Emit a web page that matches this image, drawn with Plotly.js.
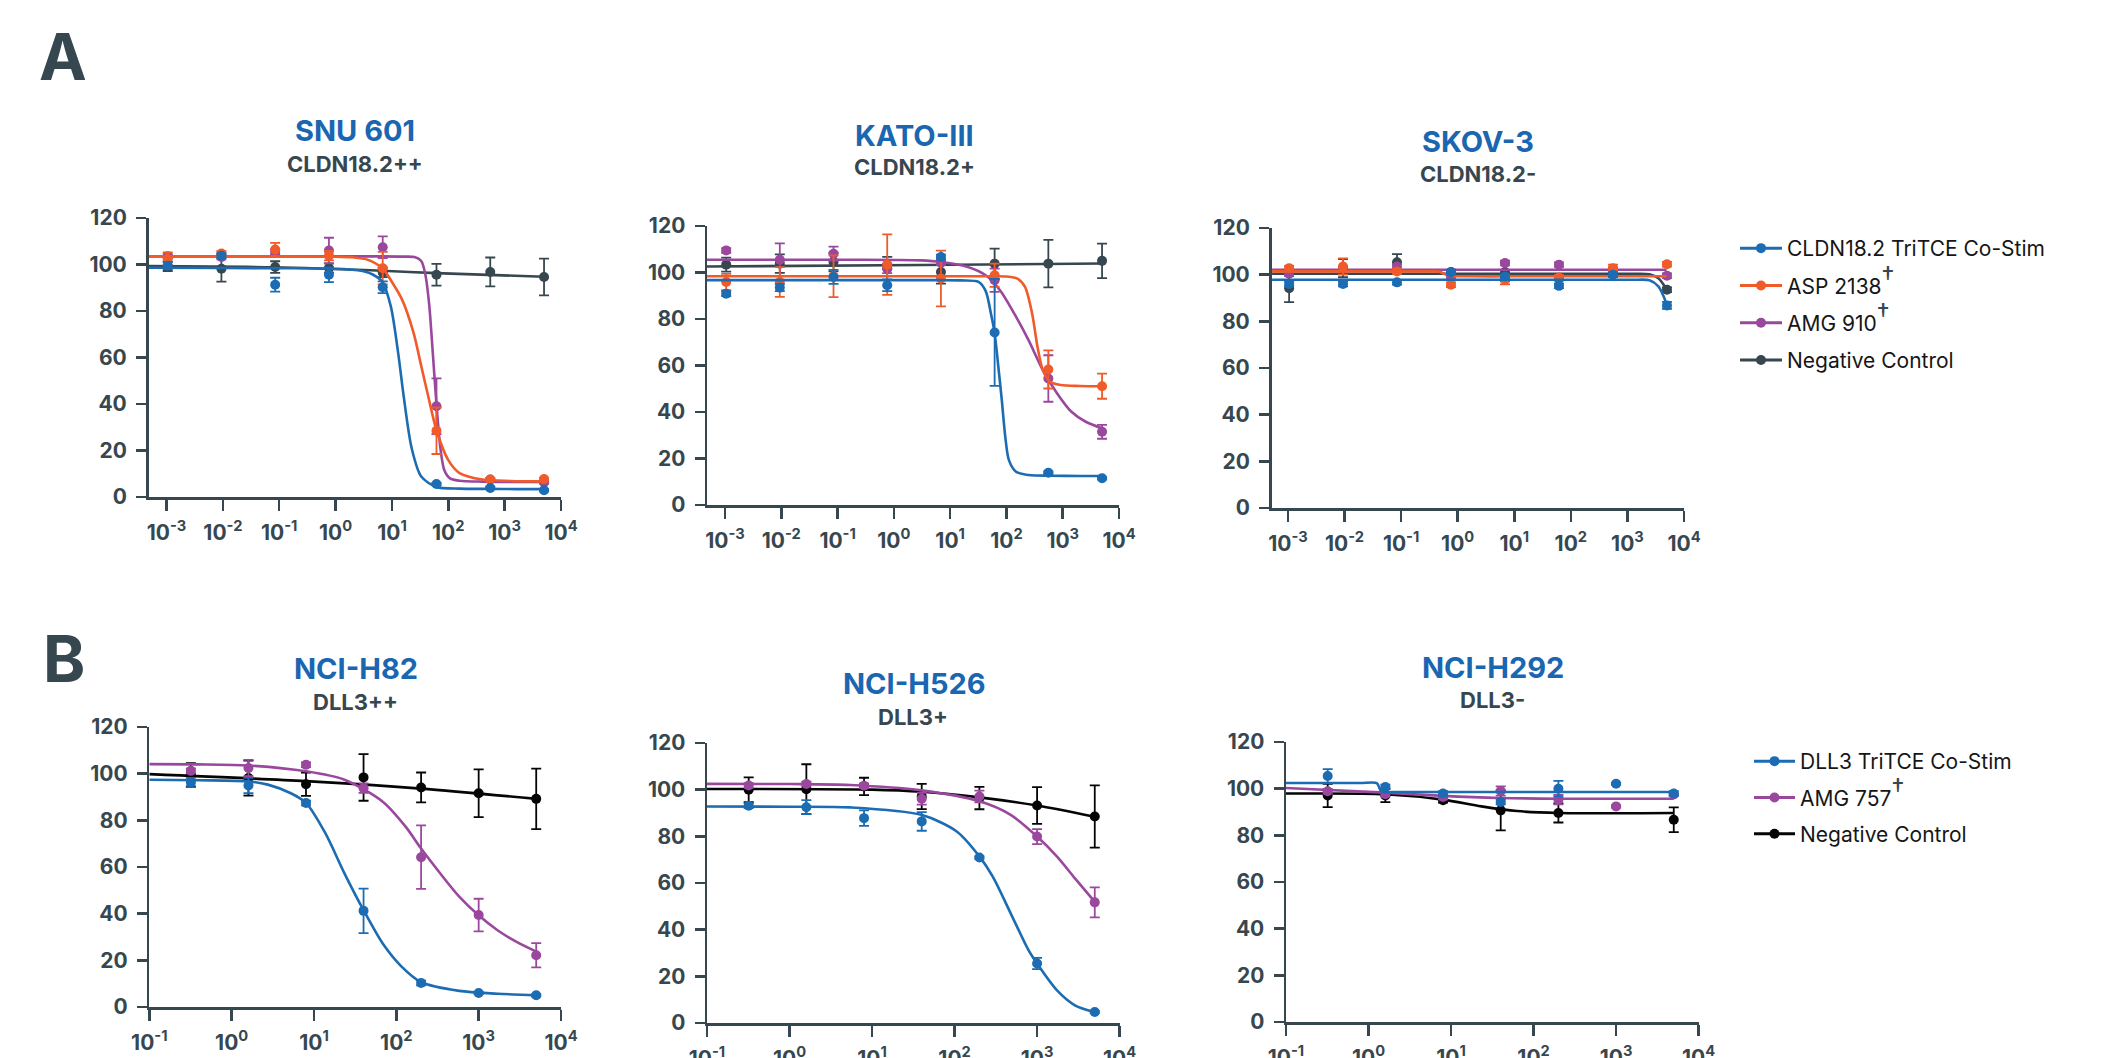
<!DOCTYPE html>
<html>
<head>
<meta charset="utf-8">
<script src="https://cdn.plot.ly/plotly-3.0.1.min.js"></script>
<style>html,body{margin:0;padding:0;background:#fff;}</style>
</head>
<body>
<div id="chart" style="width:2117px;height:1058px;"></div>
<script>
// ---------- concentrations (nM) ----------
const concA = [0.00105, 0.00941, 0.0847, 0.762, 6.86, 61.7, 555.6, 5000];
const concB = [0.32, 1.6, 8, 40, 200, 1000, 5000];

// ---------- tick labels ----------
const tickValsA = [1e-3, 1e-2, 1e-1, 1, 10, 100, 1000, 10000];
const tickTextA = ['10<sup>-3</sup>', '10<sup>-2</sup>', '10<sup>-1</sup>', '10<sup>0</sup>', '10<sup>1</sup>', '10<sup>2</sup>', '10<sup>3</sup>', '10<sup>4</sup>'];
const tickValsB = [1e-1, 1, 10, 100, 1000, 10000];
const tickTextB = ['10<sup>-1</sup>', '10<sup>0</sup>', '10<sup>1</sup>', '10<sup>2</sup>', '10<sup>3</sup>', '10<sup>4</sup>'];
const yTicks = [0, 20, 40, 60, 80, 100, 120];

// ---------- names ----------
const namesA = ['CLDN18.2 TriTCE Co-Stim', 'ASP 2138', 'AMG 910', 'Negative Control'];
const namesB = ['DLL3 TriTCE Co-Stim', 'AMG 757', 'Negative Control'];
const panelTitles = ['SNU 601', 'KATO-III', 'SKOV-3', 'NCI-H82', 'NCI-H526', 'NCI-H292'];
const panelSubtitles = ['CLDN18.2++', 'CLDN18.2+', 'CLDN18.2-', 'DLL3++', 'DLL3+', 'DLL3-'];

// ---------- SNU 601 ----------
const snu_tritce = [99.5, 103.8, 91.3, 95.6, 90.2, 5.6, 3.9, 2.9];
const snu_tritce_err = [1.5, 1, 3, 3.2, 2.5, 0.5, 0.5, 0.5];
const snu_asp = [102.5, 104.7, 106.4, 103.8, 98.4, 28.5, 7.5, 7.7];
const snu_asp_err = [2.7, 1, 2.9, 2, 7, 10, 0.5, 0.5];
const snu_amg = [103.5, 103.2, 105.5, 106, 107.4, 39, 7.5, 6.3];
const snu_amg_err = [1, 1, 1, 5.5, 4.7, 12, 0.5, 0.5];
const snu_neg = [99.2, 98.2, 98.9, 98.5, 96.6, 95.6, 96.8, 94.6];
const snu_neg_err = [2, 5.6, 2.5, 2, 2, 4.7, 6.2, 7.9];
// fitted curves (log10 nM, %)
const snu_tritce_fitX = [-3.32, -2, -1, 0, 0.4, 0.65, 0.83, 0.98, 1.11, 1.21, 1.35, 1.52, 1.79, 2.2, 2.7, 3.2, 3.70];
const snu_tritce_fitY = [98.6, 98.5, 98.4, 98.2, 97.5, 95.8, 92.5, 82, 62, 43, 21, 8.8, 4.3, 3.6, 3.5, 3.4, 3.4];
const snu_asp_fitX = [-3.32, -2, -1, 0, 0.3, 0.55, 0.83, 1.0, 1.18, 1.385, 1.521, 1.657, 1.793, 1.997, 2.2, 2.608, 3.1, 3.70];
const snu_asp_fitY = [103.5, 103.5, 103.5, 103.4, 103.1, 102.2, 98.4, 92.5, 84.9, 70.5, 56.2, 41.9, 28.5, 16, 10.3, 7.5, 6.9, 6.7];
const snu_amg_fitX = [-3.32, -2, -1, 0, 0.8, 1.2, 1.40, 1.52, 1.59, 1.66, 1.725, 1.793, 1.86, 1.93, 2.03, 2.2, 2.6, 3.1, 3.70];
const snu_amg_fitY = [103.5, 103.5, 103.5, 103.5, 103.5, 103.4, 103.2, 101.5, 96, 83, 62, 39, 21, 11.5, 8, 7, 6.6, 6.5, 6.5];
const snu_neg_fitX = [-3.32, -1.08, 0.83, 1.79, 3.70];
const snu_neg_fitY = [99.3, 98.8, 97.3, 96.3, 94.7];

// ---------- KATO-III ----------
const kato_tritce = [90.9, 93.5, 98.1, 94.5, 106.7, 74.2, 13.9, 11.5];
const kato_tritce_err = [1, 1.5, 3, 2.5, 1, 23, 0.5, 0.5];
const kato_asp = [95.9, 95.9, 98.4, 103.4, 97.4, 98.8, 58.3, 51.1];
const kato_asp_err = [3.5, 6.4, 9, 13, 12, 5, 8.2, 5.4];
const kato_amg = [109.5, 105.5, 108.1, 101.7, 104.2, 96.7, 54.4, 31.5];
const kato_amg_err = [1, 7, 3, 2, 1, 5, 10, 3];
const kato_neg = [103.4, 103.8, 104.5, 101.7, 100.2, 103.8, 103.8, 105];
const kato_neg_err = [3, 4, 4, 5, 5, 6.5, 10.2, 7.4];
const kato_tritce_fitX = [-3.32, -2, -1, 0, 0.8, 1.2, 1.505, 1.632, 1.727, 1.79, 1.854, 1.918, 1.981, 2.044, 2.171, 2.393, 2.8, 3.3, 3.707];
const kato_tritce_fitY = [96.7, 96.7, 96.7, 96.7, 96.7, 96.6, 96.0, 92, 82, 74, 60, 45, 29, 19.3, 14.3, 12.9, 12.6, 12.5, 12.5];
const kato_asp_fitX = [-3.32, -2, -1, 0, 1, 1.7, 2.0, 2.203, 2.33, 2.457, 2.552, 2.647, 2.774, 2.964, 3.3, 3.707];
const kato_asp_fitY = [98.4, 98.4, 98.4, 98.4, 98.4, 98.4, 98.3, 97.3, 93.8, 82.3, 68, 58, 53, 51.6, 51.2, 51.1];
const kato_amg_fitX = [-3.32, -2, -1, 0, 0.49, 0.839, 1.315, 1.632, 1.886, 2.14, 2.393, 2.647, 2.901, 3.155, 3.409, 3.707];
const kato_amg_fitY = [105.5, 105.5, 105.5, 105.4, 105.2, 104.5, 102.4, 98.8, 92.4, 82.3, 70.9, 58, 48, 40.1, 35.8, 32.9];
const kato_neg_fitX = [-3.32, 0.5, 3.707];
const kato_neg_fitY = [102.6, 103.2, 103.9];

// ---------- SKOV-3 ----------
const skov_tritce = [96, 96, 96.7, 101, 99.2, 95.2, 100, 86.8];
const skov_tritce_err = [1, 1, 1, 1, 1, 1, 1, 1.5];
const skov_asp = [102.8, 103.5, 101.4, 95.7, 97.8, 98.8, 102.8, 104.5];
const skov_asp_err = [1, 3.5, 1, 1, 2, 1, 1.5, 1];
const skov_amg = [100.4, 102.5, 103.5, 99.2, 105, 104.3, 102.1, 99.5];
const skov_amg_err = [1, 1, 1, 1, 1, 1, 1, 1];
const skov_neg = [94.2, 102.8, 105.3, 101.1, 101.1, 98.5, 100.7, 93.5];
const skov_neg_err = [6, 3.9, 3.5, 1, 4, 1, 1, 1];
const skov_tritce_fitX = [-3.28, -1, 1, 2.5, 3.1, 3.39, 3.547, 3.641, 3.692];
const skov_tritce_fitY = [97.8, 97.8, 97.8, 97.8, 97.8, 97.6, 95, 90.6, 87];
const skov_asp_fitX = [-3.28, -2, -1, -0.45, -0.33, -0.21, -0.09, 0.1, 1, 2, 3.692];
const skov_asp_fitY = [101.4, 101.4, 101.4, 101.4, 101.3, 100.1, 99.4, 99.3, 99.3, 99.3, 99.3];
const skov_amg_fitX = [-3.28, 3.692];
const skov_amg_fitY = [102.1, 102.1];
const skov_neg_fitX = [-3.28, -1, 1, 2.5, 3.1, 3.39, 3.547, 3.692];
const skov_neg_fitY = [100.4, 100.4, 100.4, 100.4, 100.4, 100.2, 98.5, 93.8];

// ---------- NCI-H82 ----------
const h82_tritce = [96.2, 94.9, 87.4, 41.2, 10.3, 6, 5];
const h82_tritce_err = [2, 3.3, 1, 9.5, 1, 0.5, 0.5];
const h82_amg = [101.2, 102.4, 103.8, 93.8, 64.2, 39.4, 22.2];
const h82_amg_err = [1, 3.5, 1, 2, 13.6, 7, 5.2];
const h82_neg = [99.5, 98.1, 95.5, 98.4, 94.1, 91.6, 89.2];
const h82_neg_err = [5, 7.5, 5, 10, 6.4, 10.2, 13];
const h82_tritce_fitX = [-1, -0.4, 0.208, 0.44, 0.719, 0.905, 1.138, 1.37, 1.602, 1.835, 2.067, 2.299, 2.764, 3.229, 3.707];
const h82_tritce_fitY = [97.4, 97.2, 96.7, 95.3, 91.6, 87.4, 74.5, 57.3, 41.5, 27.2, 17.2, 10.7, 6.9, 5.7, 5.0];
const h82_amg_fitX = [-1, -0.4, 0.208, 0.905, 1.37, 1.835, 2.113, 2.299, 2.532, 2.764, 2.996, 3.229, 3.461, 3.707];
const h82_amg_fitY = [104.1, 104.0, 103.5, 101, 97.4, 88, 77.3, 68, 57.3, 47.3, 39.4, 32.9, 27.9, 23.6];
const h82_neg_fitX = [-1, 0.9, 2.3, 3.707];
const h82_neg_fitY = [99.8, 96.8, 93.6, 89.2];

// ---------- NCI-H526 ----------
const h526_tritce = [93.1, 92.5, 87.8, 86.4, 70.9, 25.5, 4.7];
const h526_tritce_err = [1, 3, 3.3, 4, 0.5, 2.4, 0.5];
const h526_amg = [101.8, 102.4, 101.7, 96.1, 97.1, 79.9, 51.7];
const h526_amg_err = [1, 1, 1, 2.5, 2.5, 3.2, 6.4];
const h526_neg = [100, 100.2, 101.4, 97.1, 96.4, 93.2, 88.5];
const h526_neg_err = [5.3, 10.7, 3.7, 5.4, 4.8, 7.9, 13.3];
const h526_tritce_fitX = [-1, 0, 0.732, 1.597, 2.03, 2.303, 2.463, 2.68, 2.896, 3.0, 3.242, 3.459, 3.697];
const h526_tritce_fitY = [92.8, 92.7, 92.4, 89.2, 82, 71.3, 62.7, 47, 31.2, 25.5, 14, 7.6, 4.7];
const h526_amg_fitX = [-1, 0, 0.732, 1.597, 2.303, 2.68, 3.0, 3.242, 3.459, 3.697];
const h526_amg_fitY = [102.5, 102.4, 102, 99.7, 95, 89.2, 79.9, 71.3, 62, 52];
const h526_neg_fitX = [-1, 1.0, 1.6, 2.3, 3.0, 3.697];
const h526_neg_fitY = [100.3, 100, 99.1, 96.7, 93.2, 88.4];

// ---------- NCI-H292 ----------
const h292_tritce = [105.4, 100.7, 97.9, 94.3, 100, 102.1, 97.9];
const h292_tritce_err = [3, 1, 1, 1, 3.3, 0.5, 1];
const h292_amg = [98.9, 97.6, 96.4, 99, 95.3, 92.4, 97.5];
const h292_amg_err = [1, 1, 1, 2, 2, 0.5, 0.5];
const h292_neg = [97.1, 97.1, 95, 90.7, 89.6, null, 86.7];
const h292_neg_err = [5, 2.9, 1, 8.6, 4.1, 0, 5.3];
const h292_tritce_fitX = [-1, -0.5, -0.1, 0.1, 0.13, 0.16, 0.3, 1, 2, 3.697];
const h292_tritce_fitY = [102.4, 102.4, 102.4, 102.4, 100.5, 98.6, 98.6, 98.6, 98.6, 98.6];
const h292_amg_fitX = [-1, 0.2, 0.9, 1.6, 2.3, 3.697];
const h292_amg_fitY = [100.3, 98.3, 96.9, 96, 95.7, 95.7];
const h292_neg_fitX = [-1, 0.2, 0.9, 1.368, 1.8, 2.307, 3.697];
const h292_neg_fitY = [97.9, 97.6, 95.3, 92.4, 90.4, 89.6, 89.6];

// ---------- styling ----------
const C_BLUE = '#1b6cb3', C_ORANGE = '#f15a29', C_PURPLE = '#9a479e', C_GRAY = '#37474f', C_BLACK = '#050505';
const AX = '#37474f';
const W = 2117, H = 1058;
const FONT = 'Inter, "Open Sans", sans-serif';

// panel layout in pixels: [left, right, top(120), bottom(0)], x log range
const panels = [
  {px:[148.5, 561, 218, 497], xr:[-3.32, 4], tv:tickValsA, tt:tickTextA, conc:concA, title:[355,131], sub:[355,164],
   series:[
     {c:C_GRAY, y:snu_neg, e:snu_neg_err, fx:snu_neg_fitX, fy:snu_neg_fitY},
     {c:C_PURPLE, y:snu_amg, e:snu_amg_err, fx:snu_amg_fitX, fy:snu_amg_fitY},
     {c:C_ORANGE, y:snu_asp, e:snu_asp_err, fx:snu_asp_fitX, fy:snu_asp_fitY},
     {c:C_BLUE, y:snu_tritce, e:snu_tritce_err, fx:snu_tritce_fitX, fy:snu_tritce_fitY}]},
  {px:[707, 1119, 226, 505], xr:[-3.32, 4], tv:tickValsA, tt:tickTextA, conc:concA, title:[914,135], sub:[914,167],
   series:[
     {c:C_GRAY, y:kato_neg, e:kato_neg_err, fx:kato_neg_fitX, fy:kato_neg_fitY},
     {c:C_PURPLE, y:kato_amg, e:kato_amg_err, fx:kato_amg_fitX, fy:kato_amg_fitY},
     {c:C_ORANGE, y:kato_asp, e:kato_asp_err, fx:kato_asp_fitX, fy:kato_asp_fitY},
     {c:C_BLUE, y:kato_tritce, e:kato_tritce_err, fx:kato_tritce_fitX, fy:kato_tritce_fitY}]},
  {px:[1271.5, 1684, 228, 508], xr:[-3.29, 4], tv:tickValsA, tt:tickTextA, conc:concA, title:[1478,142], sub:[1478,174],
   series:[
     {c:C_GRAY, y:skov_neg, e:skov_neg_err, fx:skov_neg_fitX, fy:skov_neg_fitY},
     {c:C_PURPLE, y:skov_amg, e:skov_amg_err, fx:skov_amg_fitX, fy:skov_amg_fitY},
     {c:C_ORANGE, y:skov_asp, e:skov_asp_err, fx:skov_asp_fitX, fy:skov_asp_fitY},
     {c:C_BLUE, y:skov_tritce, e:skov_tritce_err, fx:skov_tritce_fitX, fy:skov_tritce_fitY}]},
  {px:[149.3, 561, 727, 1007], xr:[-1, 4], tv:tickValsB, tt:tickTextB, conc:concB, title:[355.5,668], sub:[355,702],
   series:[
     {c:C_BLACK, y:h82_neg, e:h82_neg_err, fx:h82_neg_fitX, fy:h82_neg_fitY},
     {c:C_PURPLE, y:h82_amg, e:h82_amg_err, fx:h82_amg_fitX, fy:h82_amg_fitY},
     {c:C_BLUE, y:h82_tritce, e:h82_tritce_err, fx:h82_tritce_fitX, fy:h82_tritce_fitY}]},
  {px:[707, 1119.6, 743, 1023], xr:[-1, 4], tv:tickValsB, tt:tickTextB, conc:concB, title:[914,683], sub:[913,717],
   series:[
     {c:C_BLACK, y:h526_neg, e:h526_neg_err, fx:h526_neg_fitX, fy:h526_neg_fitY},
     {c:C_PURPLE, y:h526_amg, e:h526_amg_err, fx:h526_amg_fitX, fy:h526_amg_fitY},
     {c:C_BLUE, y:h526_tritce, e:h526_tritce_err, fx:h526_tritce_fitX, fy:h526_tritce_fitY}]},
  {px:[1286, 1698.6, 742, 1022], xr:[-1, 4], tv:tickValsB, tt:tickTextB, conc:concB, title:[1492.7,667], sub:[1492.5,700],
   series:[
     {c:C_BLACK, y:h292_neg, e:h292_neg_err, fx:h292_neg_fitX, fy:h292_neg_fitY},
     {c:C_PURPLE, y:h292_amg, e:h292_amg_err, fx:h292_amg_fitX, fy:h292_amg_fitY},
     {c:C_BLUE, y:h292_tritce, e:h292_tritce_err, fx:h292_tritce_fitX, fy:h292_tritce_fitY}]}
];

const traces = [];
const layout = {
  width: W, height: H,
  margin: {l:0, r:0, t:0, b:0, pad:0},
  paper_bgcolor: '#ffffff', plot_bgcolor: 'rgba(0,0,0,0)',
  showlegend: true,
  annotations: [],
  font: {family: FONT, color: AX}
};

const tickFont = {family: FONT, size: 21, color: AX, weight: 'bold'};

panels.forEach((p, i) => {
  const n = i === 0 ? '' : String(i + 1);
  const xa = 'x' + n, ya = 'y' + n;
  layout['xaxis' + n] = {
    type: 'log', range: p.xr, domain: [p.px[0] / W, p.px[1] / W], anchor: ya,
    tickmode: 'array', tickvals: p.tv, ticktext: p.tt,
    showline: true, linecolor: AX, linewidth: 2.5,
    ticks: 'outside', ticklen: 11, tickwidth: 2.5, tickcolor: AX, ticklabelstandoff: 4,
    showgrid: false, zeroline: false, tickfont: tickFont, fixedrange: true
  };
  layout['yaxis' + n] = {
    range: [0, 120], domain: [1 - p.px[3] / H, 1 - p.px[2] / H], anchor: xa,
    tickmode: 'array', tickvals: yTicks,
    showline: true, linecolor: AX, linewidth: 2.5,
    ticks: 'outside', ticklen: 10, tickwidth: 2.5, tickcolor: AX, ticklabelstandoff: 5,
    showgrid: false, zeroline: false, tickfont: tickFont, fixedrange: true
  };
  p.series.forEach(s => {
    traces.push({
      type: 'scatter', mode: 'lines', xaxis: xa, yaxis: ya,
      x: s.fx.map(v => Math.pow(10, v)), y: s.fy,
      line: {color: s.c, width: 2.6, shape: 'spline', smoothing: 0.8},
      showlegend: false, hoverinfo: 'skip', cliponaxis: false
    });
    traces.push({
      type: 'scatter', mode: 'markers', xaxis: xa, yaxis: ya,
      x: p.conc, y: s.y,
      marker: {color: s.c, size: 10},
      error_y: {type: 'data', array: s.e, visible: true, color: s.c, thickness: 1.8, width: 5},
      showlegend: false, cliponaxis: false
    });
  });
  layout.annotations.push({
    xref: 'paper', yref: 'paper', x: p.title[0] / W, y: 1 - p.title[1] / H,
    xanchor: 'center', yanchor: 'middle', showarrow: false, text: panelTitles[i],
    font: {family: FONT, size: 29, color: '#1a66b1', weight: 'bold'}
  });
  layout.annotations.push({
    xref: 'paper', yref: 'paper', x: p.sub[0] / W, y: 1 - p.sub[1] / H,
    xanchor: 'center', yanchor: 'middle', showarrow: false, text: panelSubtitles[i],
    font: {family: FONT, size: 22, color: AX, weight: 'bold'}
  });
});

// panel letters
layout.annotations.push({xref:'paper', yref:'paper', x: 37 / W, y: 1 - 57 / H, xanchor:'left', yanchor:'middle',
  showarrow:false, text:'A', font:{family:FONT, size:64, color:'#36474f', weight:'bold'}});
layout.annotations.push({xref:'paper', yref:'paper', x: 41 / W, y: 1 - 658 / H, xanchor:'left', yanchor:'middle',
  showarrow:false, text:'B', font:{family:FONT, size:64, color:'#36474f', weight:'bold'}});

// legend entries (one per series, no data points of their own)
const dag = '<sup><span style="font-size:26px;color:#37474f">†</span></sup>';
const legA = [[namesA[0], C_BLUE, ''], [namesA[1], C_ORANGE, dag], [namesA[2], C_PURPLE, dag], [namesA[3], C_GRAY, '']];
const legB = [[namesB[0], C_BLUE, ''], [namesB[1], C_PURPLE, dag], [namesB[2], C_BLACK, '']];
legA.forEach((l, k) => traces.push({type:'scatter', mode:'lines+markers', x:[null], y:[null], name: l[0] + l[2],
  line:{color:l[1], width:3}, marker:{color:l[1], size:10}, legend:'legend', legendgroup:'a' + k, showlegend:true}));
legB.forEach((l, k) => traces.push({type:'scatter', mode:'lines+markers', x:[null], y:[null], name: l[0] + l[2],
  line:{color:l[1], width:3}, marker:{color:l[1], size:10}, legend:'legend2', legendgroup:'b' + k, showlegend:true}));

const legendFont = {family: FONT, size: 21, color: '#161616'};
layout.legend = {x: 1735 / W, y: 1 - 228 / H, xanchor: 'left', yanchor: 'top', font: legendFont,
  bgcolor: 'rgba(0,0,0,0)', borderwidth: 0, traceorder: 'grouped', tracegroupgap: 7, itemwidth: 42};
layout.legend2 = {x: 1749 / W, y: 1 - 741 / H, xanchor: 'left', yanchor: 'top', font: legendFont,
  bgcolor: 'rgba(0,0,0,0)', borderwidth: 0, traceorder: 'grouped', tracegroupgap: 6, itemwidth: 41};

Plotly.newPlot('chart', traces, layout, {staticPlot: true, displayModeBar: false});
</script>
</body>
</html>
